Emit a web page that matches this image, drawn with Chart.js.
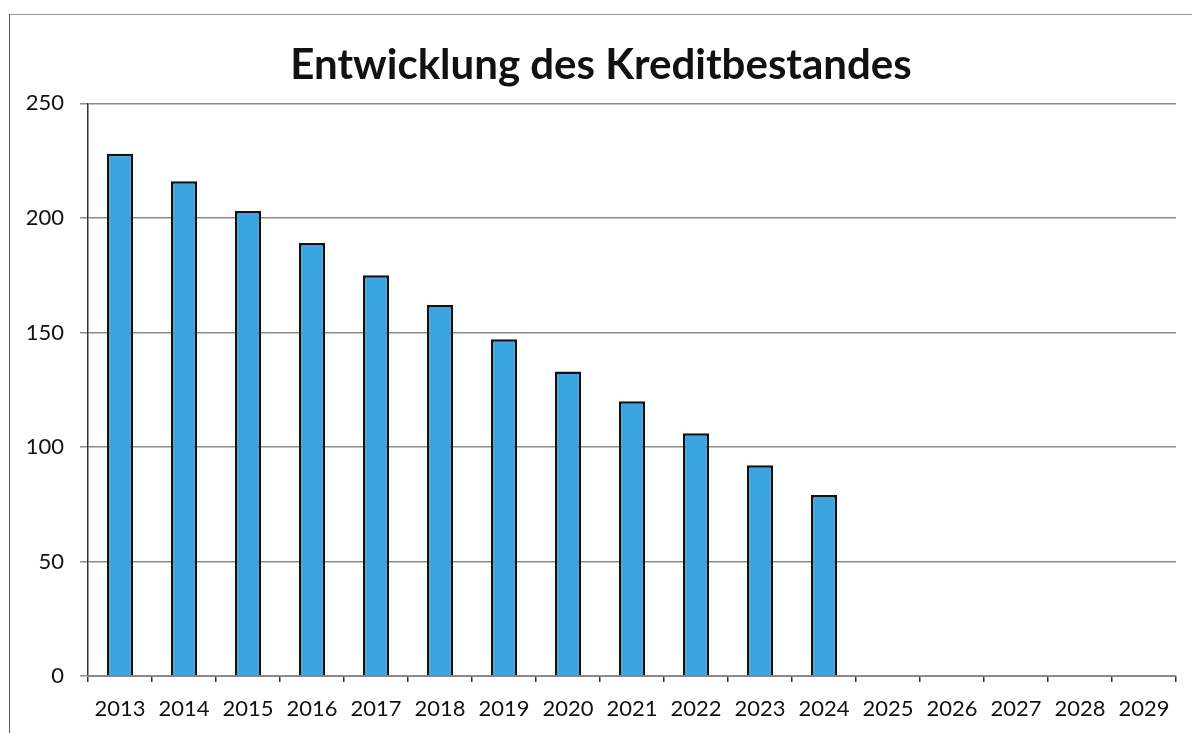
<!DOCTYPE html>
<html>
<head>
<meta charset="utf-8">
<script src="https://cdn.jsdelivr.net/npm/chart.js@4.4.1/dist/chart.umd.min.js"></script>
<style>
  html, body { margin: 0; padding: 0; background: #fff; }
  .wrap { position: relative; width: 1192px; height: 733px; }
  .frame {
    position: absolute; left: 9px; top: 14px; right: 0; bottom: 0;
    border-left: 1.5px solid #555; border-top: 1.5px solid #999;
    pointer-events: none;
  }
  canvas { position: absolute; left: 0; top: 0; }
</style>
</head>
<body>
<div class="wrap">
  <canvas id="chart" width="1192" height="733"></canvas>
  <div class="frame"></div>
</div>
<script>
const years = ['2013', '2014', '2015', '2016', '2017', '2018', '2019', '2020', '2021',
  '2022', '2023', '2024', '2025', '2026', '2027', '2028', '2029'];
const kreditbestand = [228, 216, 203, 189, 175, 162, 147, 133, 120, 106, 92, 79,
  null, null, null, null, null];
const yTicks = [0, 50, 100, 150, 200, 250];

const ctx = document.getElementById('chart').getContext('2d');
new Chart(ctx, {
  type: 'bar',
  data: {
    labels: years,
    datasets: [{
      data: kreditbestand,
      backgroundColor: '#3aa5df',
      borderColor: '#111',
      borderWidth: 2.5,
      barPercentage: 0.41,
      categoryPercentage: 1,
    }],
  },
  options: {
    responsive: false,
    animation: false,
    layout: {
      padding: { left: 26, right: 16, top: 0, bottom: 0 },
    },
    plugins: {
      legend: { display: false },
      tooltip: { enabled: false },
      title: {
        display: true,
        text: 'Entwicklung des Kreditbestandes',
        color: '#111',
        font: { family: 'Lato', size: 42, weight: 'bold' },
        padding: { top: 40, bottom: 13 },
      },
    },
    scales: {
      y: {
        min: 0,
        max: 250,
        afterFit: (scale) => { scale.width = 62; },
        afterBuildTicks: (scale) => { scale.ticks = yTicks.map(v => ({ value: v })); },
        ticks: {
          padding: 16,
          color: '#111',
          font: { family: 'Lato', size: 22 },
        },
        grid: {
          color: '#8c8c8c',
          lineWidth: 1.5,
          tickLength: 8,
        },
        border: { color: '#333', width: 1.5 },
      },
      x: {
        afterFit: (scale) => { scale.height = 57; },
        ticks: {
          padding: 14,
          color: '#111',
          font: { family: 'Lato', size: 22 },
          maxRotation: 0,
          autoSkip: false,
        },
        grid: {
          offset: true,
          drawOnChartArea: false,
          color: '#333',
          lineWidth: 1.5,
          tickLength: 6,
        },
        border: { color: '#888', width: 2 },
      },
    },
  },
});
</script>
</body>
</html>
